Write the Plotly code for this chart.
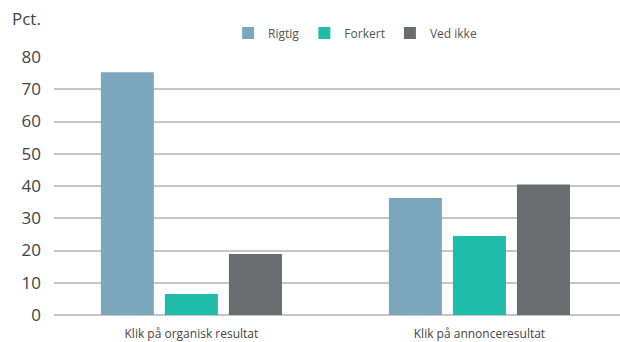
import plotly.graph_objects as go

# Survey answers, percent of respondents
categories = ["Klik på organisk resultat", "Klik på annonceresultat"]
series_names = ["Rigtig", "Forkert", "Ved ikke"]
rigtig = [75.3, 36.3]
forkert = [6.5, 24.5]
ved_ikke = [18.9, 40.5]
y_ticks = [0, 10, 20, 30, 40, 50, 60, 70, 80]

colors = ["#7BA7BC", "#20BCAA", "#6B6C70"]
font_family = "Open Sans, Noto Sans, sans-serif"

fig = go.Figure()
for name, vals, col in zip(series_names, [rigtig, forkert, ved_ikke], colors):
    fig.add_trace(go.Bar(name=name, x=categories, y=vals, marker_color=col,
                         marker_line_width=0))

fig.update_layout(
    width=620, height=342,
    margin=dict(l=54, r=0, t=57, b=27),
    paper_bgcolor="white", plot_bgcolor="white",
    barmode="group", bargap=0.333, bargroupgap=0.172,
    font=dict(family=font_family, color="#444"),
    showlegend=True,
    legend=dict(orientation="h", x=0.532, xanchor="center", y=1.093, yanchor="middle",
                font=dict(size=12, color="#555"), itemwidth=30,
                traceorder="normal", bgcolor="rgba(0,0,0,0)"),
    annotations=[dict(text="Pct.", xref="paper", yref="paper", x=-0.078, y=1.15,
                      xanchor="left", yanchor="middle", showarrow=False,
                      font=dict(size=17, color="#444", family=font_family))],
)
fig.update_xaxes(type="category", range=[-0.477, 1.488], showgrid=False,
                 showline=False, ticks="", ticklabelstandoff=10,
                 tickfont=dict(size=12, color="#444"))
fig.update_yaxes(range=[0, 80], tickvals=y_ticks, showgrid=True, gridcolor="#c6c6c6",
                 gridwidth=1.5, zeroline=True, zerolinecolor="#c6c6c6", zerolinewidth=1.5,
                 showline=False, ticks="", ticklabelstandoff=12,
                 tickfont=dict(size=17, color="#444"))

fig.write_html("out.html")
